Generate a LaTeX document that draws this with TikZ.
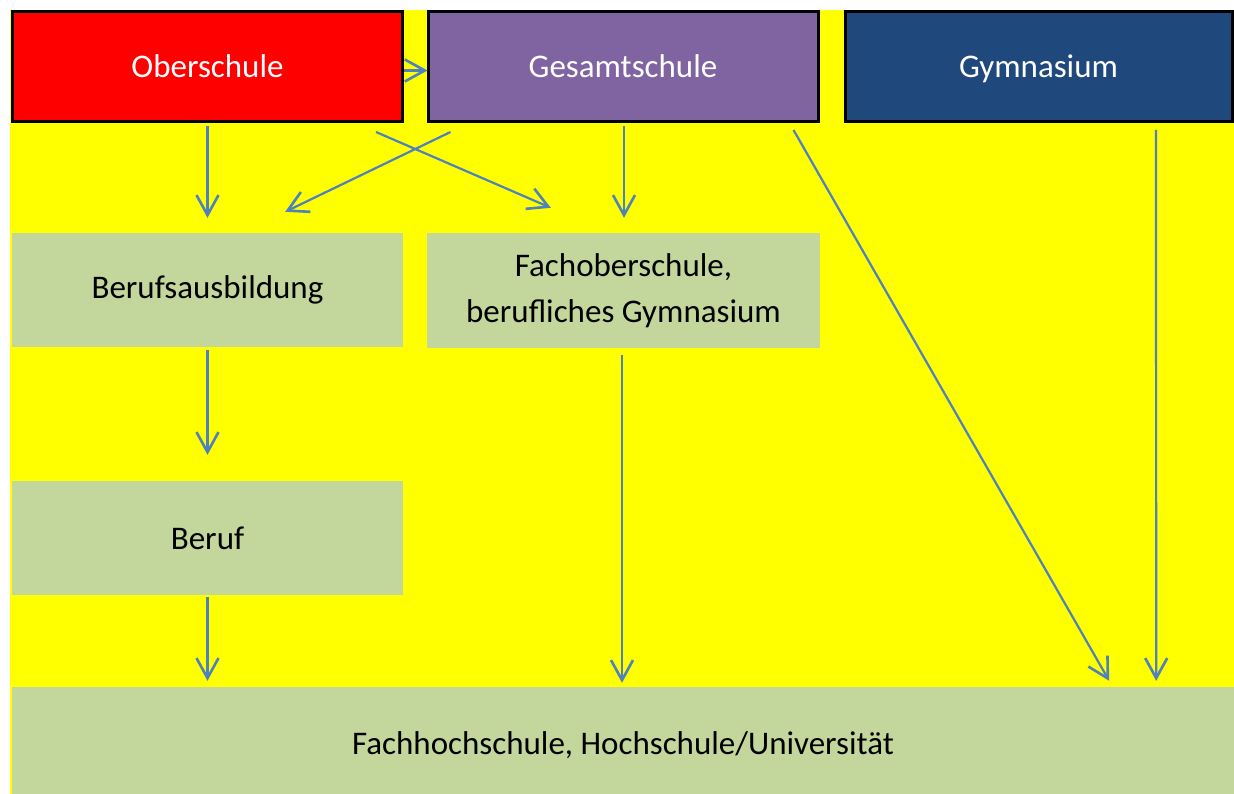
\documentclass[tikz,border=0pt]{standalone}
\usepackage{fontspec}
\setmainfont{Carlito}
\usetikzlibrary{arrows.meta}
\definecolor{grundgelb}{RGB}{255,255,0}
\definecolor{oberred}{RGB}{255,0,0}
\definecolor{gesamtlila}{HTML}{8064A2}
\definecolor{gymblau}{HTML}{1F497D}
\definecolor{weggruen}{HTML}{C3D69B}
\definecolor{pfeilblau}{HTML}{4F81BD}
\tikzset{
  schule/.style={rectangle,draw=black,line width=3pt,text=white,minimum height=110pt,inner sep=0pt,text height=21.5pt,text depth=0pt},
  weg/.style={rectangle,fill=weggruen,text=black,minimum height=114pt,inner sep=0pt,align=center},
  pfeil/.style={pfeilblau,line width=2.2pt,-{Straight Barb[length=20pt,width=22pt,line width=2.6pt]}}
}
\begin{document}
\begin{tikzpicture}[x=1pt,y=-1pt,font=\fontsize{33}{46}\selectfont]
		\useasboundingbox (0,0) rectangle (1234,794);
		\fill[grundgelb] (10,10) rectangle (1234,794);
		\path (207.5,66.5) node(ober)[schule,fill=oberred,minimum width=390pt]{Oberschule}
		(623,66.5) node(gesamt)[schule,fill=gesamtlila,minimum width=390pt]{Gesamtschule}
		(1038.5,66.5) node(gym)[schule,fill=gymblau,minimum width=387pt]{Gymnasium}
		(207.5,290) node(ausb)[weg,minimum width=391pt]{Berufsausbildung}
		(623.5,290.5) node(fos)[weg,minimum width=393pt,minimum height=115pt]{Fachoberschule,\\berufliches Gymnasium}
		(207.5,538) node(beruf)[weg,minimum width=391pt]{Beruf}
		(623,745) node(hoch)[weg,minimum width=1222pt,minimum height=116pt]{Fachhochschule, Hochschule/Universität};
		\draw [pfeil] ([yshift=-4pt]ober.east) -- ([yshift=-4pt,xshift=1pt]gesamt.west);
		\draw [pfeil] ([yshift=-3pt]ober.south) -- ([yshift=15pt]ausb.north);
		\draw [pfeil] ([xshift=-28pt,yshift=-9pt]ober.south east) -- ([xshift=124pt,yshift=25pt]fos.north west);
		\draw [pfeil] ([xshift=24pt,yshift=-9pt]gesamt.south west) -- ([xshift=-118pt,yshift=21pt]ausb.north east);
		\draw [pfeil] ([xshift=1pt,yshift=-3pt]gesamt.south) -- ([xshift=0.5pt,yshift=15pt]fos.north);
		\draw [pfeil] ([xshift=-26pt,yshift=-7pt]gesamt.south east) -- ([xshift=-125pt,yshift=6pt]hoch.north east);
		\draw [pfeil] ([xshift=117.5pt,yshift=-7pt]gym.south) -- ([xshift=-78pt,yshift=6pt]hoch.north east);
		\draw [pfeil] ([yshift=-3pt]ausb.south) -- ([yshift=26pt]beruf.north);
		\draw [pfeil] ([xshift=-1.5pt,yshift=-7pt]fos.south) -- ([xshift=-1pt,yshift=4pt]hoch.north);
		\draw [pfeil] ([yshift=-2pt]beruf.south) -- ([xshift=-415.5pt,yshift=6pt]hoch.north);
	\end{tikzpicture}
\end{document}
